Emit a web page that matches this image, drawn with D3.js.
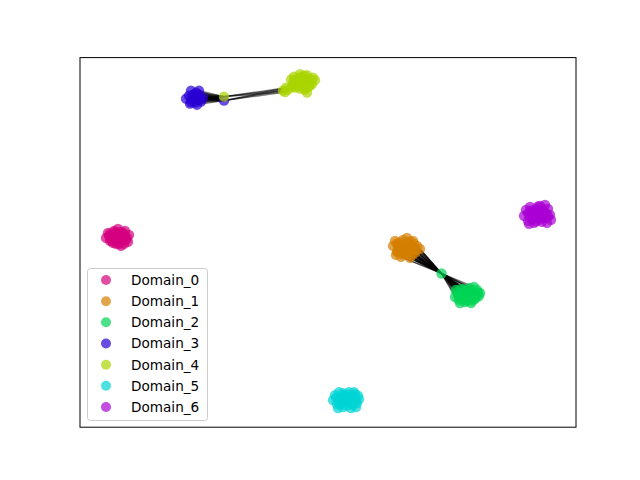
<!DOCTYPE html>
<html>
<head>
<meta charset="utf-8">
<script src="https://cdn.jsdelivr.net/npm/d3@7"></script>
<style>
  html, body { margin: 0; padding: 0; background: #fff; }
  svg { display: block; }
</style>
</head>
<body>
<svg id="chart" width="640" height="480"></svg>
<script>
// ---- Data ----
const domains = ["Domain_0", "Domain_1", "Domain_2", "Domain_3", "Domain_4", "Domain_5", "Domain_6"];
const domainColors = ["#d4007f", "#d47f00", "#00d455", "#2a00d4", "#aad400", "#00d4d4", "#aa00d4"];

// embedding coordinates of each node, per domain
const pointsD0 = [[-22.2,0.45],[-22.0,0.95],[-21.8,0.15],[-21.6,0.65],[-21.4,1.15],[-21.2,-0.15],[-21.1,0.45],[-20.9,0.95],[-20.8,0.15],[-20.6,0.65],[-20.4,-0.15],[-20.3,1.15],[-20.1,0.45],[-19.9,0.75],[-21.5,-0.05],[-21.0,1.35],[-20.7,-0.35],[-20.0,0.05],[-21.9,0.65],[-21.3,0.25],
  [-21.7,0.35],[-21.2,0.85],[-20.5,0.35],[-21.0,0.05],[-20.7,1.05],[-21.5,0.55],[-20.3,0.65],[-21.8,0.85],[-20.9,-0.15],[-21.3,1.05],[-20.5,0.95],[-21.6,0.15],[-20.2,0.25],[-21.0,0.7],[-20.8,0.45]];
const pointsD1 = [[6.5,-0.35],[6.7,0.15],[6.9,-0.95],[7.1,-0.15],[7.3,-1.45],[7.5,0.25],[7.6,-0.65],[7.8,-1.15],[8.0,-0.05],[8.2,-1.55],[8.3,-0.55],[8.5,0.15],[8.7,-1.05],[8.9,-0.35],[9.2,-0.65],[7.0,-0.65],[7.9,0.45],[8.4,-1.25],[6.8,-1.25],[8.6,-0.15],
  [7.2,-0.45],[7.7,-0.25],[8.1,-0.85],[7.4,-1.0],[8.6,-0.7],[6.9,-0.1],[7.9,-0.6],[8.3,-0.2],[7.5,-1.2],[8.0,-1.25],[7.2,0.0],[8.8,-0.8],[7.0,-0.95],[7.7,-0.8],[8.2,0.1]];
const pointsD2 = [[11.35,-3.1],[12.7,-5.45],[12.9,-4.95],[13.1,-5.75],[13.3,-4.65],[13.5,-5.35],[13.7,-5.95],[13.8,-4.85],[14.0,-5.55],[14.2,-4.55],[14.3,-6.05],[14.5,-5.15],[14.7,-5.65],[14.9,-4.75],[15.1,-5.35],[15.2,-5.05],[13.2,-6.05],[14.1,-5.15],[14.6,-4.45],[12.8,-4.75],[13.6,-5.65],
  [13.0,-5.3],[13.4,-5.0],[13.8,-5.3],[14.2,-5.0],[14.6,-5.3],[15.0,-5.0],[13.3,-5.6],[13.9,-5.8],[14.4,-5.8],[14.0,-4.8],[13.6,-4.7],[14.8,-5.45],[13.2,-5.1],[14.3,-5.5],[13.9,-5.2]];
const pointsD3 = [[-10.4,14.15],[-13.7,15.15],[-12.9,15.15],[-14.2,14.35],[-13.8,13.85],[-13.1,13.75],[-12.5,14.45],[-13.5,14.75],[-13.0,14.45],[-13.4,14.15],[-12.7,14.05],[-13.9,14.65],[-13.2,14.95],
  [-13.4,14.45],[-13.1,14.3],[-13.6,14.3],[-13.0,14.8],[-13.3,13.95],[-12.8,14.3],[-13.7,14.0]];
const pointsD4 = [[-10.4,14.55],[-4.5,15.15],[-4.2,15.45],[-3.7,16.25],[-3.4,16.55],[-3.1,15.85],[-2.9,16.45],[-2.6,16.15],[-2.4,16.65],[-2.2,15.75],[-2.0,16.35],[-1.7,16.05],[-1.5,16.45],[-3.3,15.45],[-2.8,15.35],[-2.3,15.25],[-2.1,14.95],[-3.5,15.85],[-1.8,15.65],[-3.0,16.15],[-2.5,15.65],
  [-3.2,16.0],[-2.7,15.9],[-2.2,16.0],[-1.8,16.3],[-2.6,16.5],[-3.4,16.2],[-1.6,15.8],[-2.9,15.6],[-2.4,15.4],[-2.0,15.5],[-3.6,15.5],[-1.3,16.2],[-2.8,16.8],[-2.1,16.7],[-4.3,15.0],[-4.0,15.25]];
const pointsD5 = [[0.5,-15.75],[0.7,-15.25],[0.9,-16.15],[1.1,-14.95],[1.3,-15.65],[1.5,-16.45],[1.7,-15.25],[1.9,-15.95],[2.1,-14.95],[2.3,-16.55],[2.5,-15.55],[2.7,-15.15],[2.9,-16.05],[3.1,-15.65],[1.0,-16.55],[1.8,-15.65],[2.2,-15.45],[2.8,-16.45],[1.4,-16.05],[2.6,-14.95],
  [1.0,-15.6],[1.4,-15.3],[1.6,-15.8],[2.0,-15.6],[2.4,-15.9],[2.6,-15.4],[3.0,-15.3],[1.2,-16.2],[1.9,-16.3],[2.5,-16.2],[0.8,-15.5],[2.0,-15.2],[2.8,-15.8],[1.5,-15.05],[2.3,-16.0]];
const pointsD6 = [[19.6,2.65],[19.8,3.25],[20.0,2.15],[20.2,3.55],[20.4,2.85],[20.6,1.95],[20.8,3.35],[21.0,2.55],[21.2,3.65],[21.4,2.05],[21.6,3.05],[21.8,2.45],[22.0,3.35],[22.2,2.75],[22.3,2.25],[20.1,1.85],[21.3,2.85],[21.7,3.75],[20.5,2.35],[21.9,1.95],
  [20.2,2.7],[20.6,3.0],[21.0,3.1],[21.4,2.5],[21.8,2.9],[20.4,2.3],[20.8,2.1],[21.2,2.3],[21.6,2.6],[22.0,2.6],[20.0,2.9],[21.0,3.6],[20.7,2.6],[21.5,3.3],[20.3,3.2]];
const pointsByDomain = [pointsD0, pointsD1, pointsD2, pointsD3, pointsD4, pointsD5, pointsD6];

// edges (node indices)
const edgesD1toBridge = [0,1,2,3,4,5,6,7,8,9,10,11,12,13,14,15,16,17,18,19,20,21,22,23,24,25,26,27,28,29,30,31,32,33,34]; // D1 nodes -> D2 node 0
const edgesBridgeToD2 = [1,2,3,4,5,6,7,8,9,10,11,12,13,14,15,16,17,18,19,20,21,22,23,24,25,26,27,28,29,30,31,32,33,34,35]; // D2 node 0 -> D2 nodes
const edgesD3toLink = [1,2,3,4,5,6,7,8,9,10,11,12,13,14,15,16]; // D3 nodes -> D4 node 0 and D3 node 0
const edgesLinkToD4 = [1,2,13,35]; // D4 node 0 and D3 node 0 -> D4 nodes

const xDomain = [-24.8, 24.8];
const yDomain = [-18.45, 18.45];

// ---- Layout ----
const W = 640, H = 480;
const margin = { left: 80, right: 64, top: 57.6, bottom: 52.8 };
const svg = d3.select("#chart");
const x = d3.scaleLinear().domain(xDomain).range([margin.left, W - margin.right]);
const y = d3.scaleLinear().domain(yDomain).range([H - margin.bottom, margin.top]);

const edges = [];
edgesD1toBridge.forEach(i => edges.push([pointsD1[i], pointsD2[0]]));
edgesBridgeToD2.forEach(i => edges.push([pointsD2[0], pointsD2[i]]));
edgesD3toLink.forEach(i => { edges.push([pointsD3[i], pointsD4[0]]); edges.push([pointsD3[i], pointsD3[0]]); });
edgesLinkToD4.forEach(i => { edges.push([pointsD4[0], pointsD4[i]]); edges.push([pointsD3[0], pointsD4[i]]); });

const plot = svg.append("g");
plot.append("g").selectAll("line").data(edges).join("line")
  .attr("x1", d => x(d[0][0])).attr("y1", d => y(d[0][1]))
  .attr("x2", d => x(d[1][0])).attr("y2", d => y(d[1][1]))
  .attr("stroke", "#000").attr("stroke-opacity", 0.5).attr("stroke-width", 1.3);

pointsByDomain.forEach((pts, di) => {
  plot.append("g").selectAll("circle").data(pts).join("circle")
    .attr("cx", d => x(d[0])).attr("cy", d => y(d[1]))
    .attr("r", 5.2)
    .attr("fill", domainColors[di]).attr("fill-opacity", 0.7);
});

// frame
svg.append("rect")
  .attr("x", margin.left).attr("y", margin.top)
  .attr("width", W - margin.left - margin.right)
  .attr("height", H - margin.top - margin.bottom)
  .attr("fill", "none").attr("stroke", "#000").attr("stroke-width", 1);

// legend
const lg = svg.append("g").attr("transform", "translate(87,268)");
lg.append("rect").attr("x", 0.5).attr("y", 0.5).attr("width", 120).attr("height", 152)
  .attr("rx", 3).attr("fill", "#fff").attr("fill-opacity", 0.8)
  .attr("stroke", "#cccccc").attr("stroke-width", 1);
const rowY = d3.scaleLinear().domain([0, domains.length - 1]).range([12, 139]);
const rows = lg.selectAll("g.row").data(domains).join("g").attr("class", "row")
  .attr("transform", (d, i) => `translate(0,${rowY(i)})`);
rows.append("circle").attr("cx", 19).attr("cy", 0).attr("r", 5)
  .attr("fill", (d, i) => domainColors[i]).attr("fill-opacity", 0.7);
rows.append("text").attr("x", 44).attr("y", 0).attr("dy", "0.36em")
  .attr("font-family", "DejaVu Sans, sans-serif").attr("font-size", "13.6px")
  .attr("fill", "#000").text(d => d);
</script>
</body>
</html>
